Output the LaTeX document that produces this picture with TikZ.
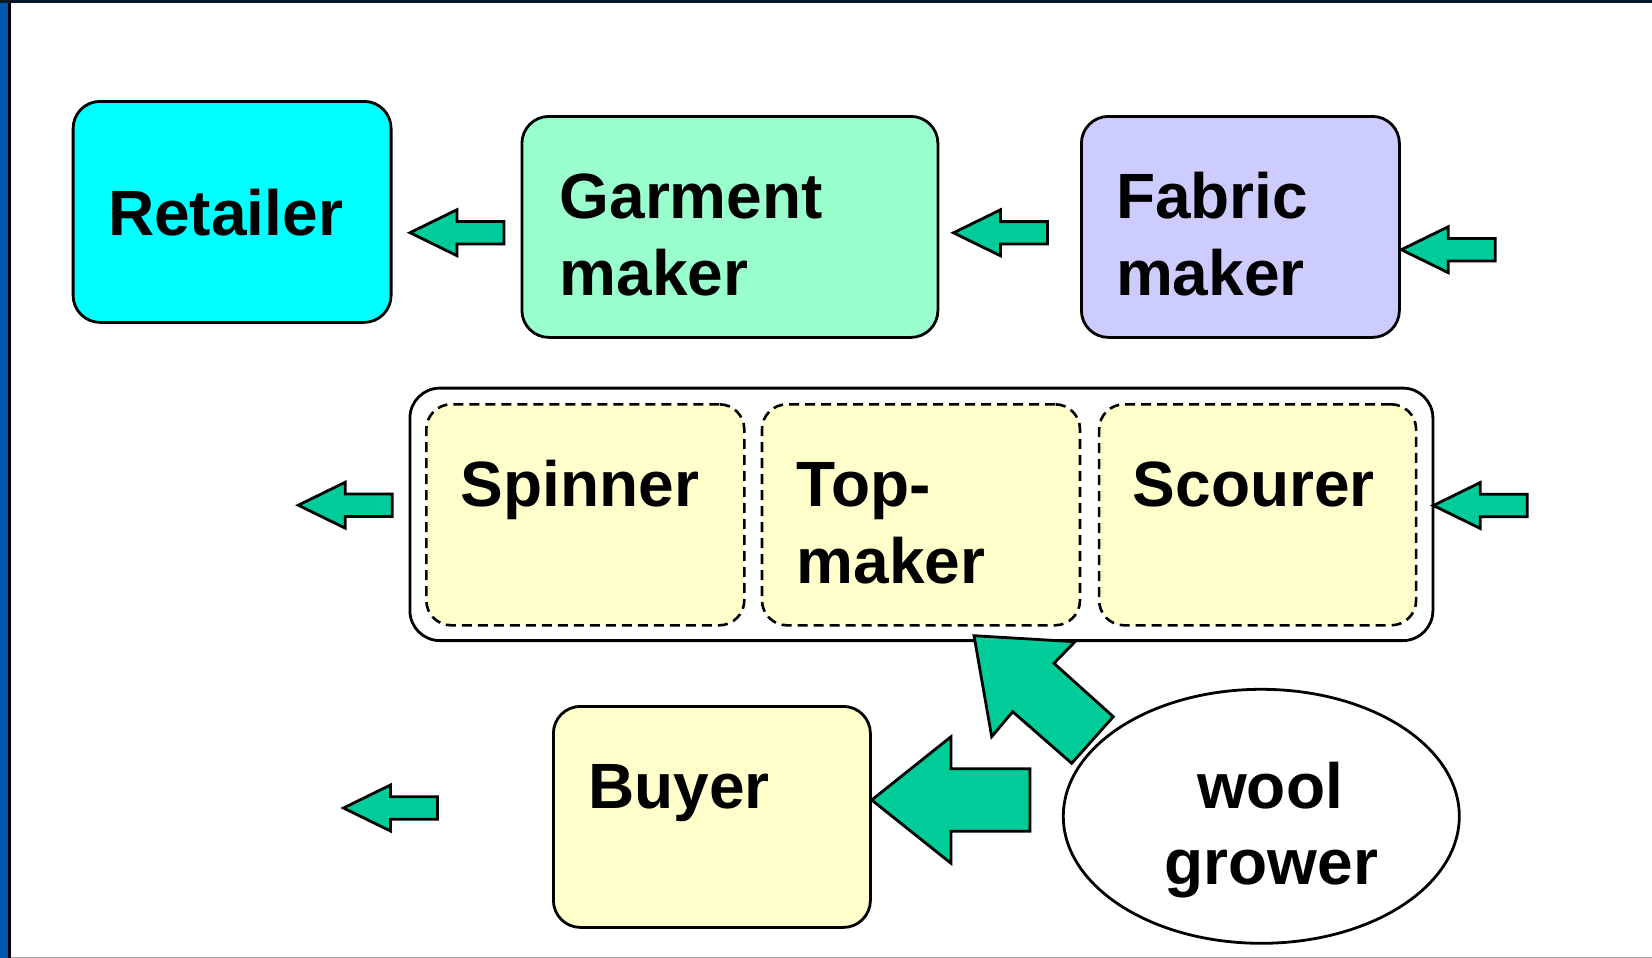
\documentclass[tikz,border=0pt]{standalone}
\usepackage{fontspec}
\setmainfont{Liberation Sans}
\usetikzlibrary{shapes.geometric}

\definecolor{retailcyan}{HTML}{00FFFF}
\definecolor{garmentgreen}{HTML}{99FFCC}
\definecolor{fabriclilac}{HTML}{CCCCFF}
\definecolor{paleyellow}{HTML}{FFFFCC}
\definecolor{flowgreen}{HTML}{00CC99}
\definecolor{frameblue}{HTML}{0058B0}
\definecolor{framedark}{HTML}{04182C}
\definecolor{framegrey}{HTML}{A8A8A8}

\tikzset{
  box/.style={draw=black, line width=2.8pt, rounded corners=27pt, rectangle,
    inner sep=0pt, anchor=north west},
  dashbox/.style={draw=black, line width=2.6pt, rounded corners=25pt, rectangle,
    inner sep=0pt, anchor=north west, fill=paleyellow,
    dash pattern=on 10pt off 6pt},
  label/.style={font=\bfseries\fontsize{64}{77}\selectfont, inner sep=0pt,
    anchor=base west},
  clabel/.style={font=\bfseries\fontsize{64}{77}\selectfont, inner sep=0pt,
    anchor=base},
  flow/.style={draw=black, line width=2.8pt, fill=flowgreen, line join=miter},
  leftarrow/.pic={
    \draw[flow] (0,0) -- (47,-23) -- (47,-11.2) -- (94,-11.2) -- (94,11.2)
      -- (47,11.2) -- (47,23) -- cycle;
  }
}

\begin{document}
\begin{tikzpicture}[x=1pt, y=-1pt]
  \useasboundingbox (0,0) rectangle (1652,958);
  \fill[white] (0,0) rectangle (1652,958);

  % slide frame
  \fill[frameblue] (0,0) rectangle (8,958);
  \fill[black] (8,0) rectangle (11,958);
  \fill[framedark] (0,0) rectangle (1652,3);
  \fill[framegrey] (11,956.5) rectangle (1652,958);

  % top row
  \node[box, fill=retailcyan, minimum width=318pt, minimum height=221pt]
    (retailer) at (71.7,100) {};
  \node[box, fill=garmentgreen, minimum width=416pt, minimum height=221pt]
    (garment) at (520.5,115) {};
  \node[box, fill=fabriclilac, minimum width=318pt, minimum height=221pt]
    (fabric) at (1080,115) {};

  \node[label] (retailerText) at (108,235.5) {Retailer};
  \node[label] (garmentTextA) at (559.5,218) {Garment};
  \node[label] (garmentTextB) at (559.5,295) {maker};
  \node[label] (fabricTextA) at (1115.8,218) {Fabric};
  \node[label] (fabricTextB) at (1115.8,295) {maker};

  % processing group
  \node[box, fill=white, rounded corners=30pt, minimum width=1023pt,
    minimum height=252.5pt] (group) at (408.5,386.7) {};
  \node[dashbox, minimum width=318pt, minimum height=221pt]
    (spinner) at (425,403) {};
  \node[dashbox, minimum width=318pt, minimum height=221pt]
    (topmaker) at (760.7,403) {};
  \node[dashbox, minimum width=317pt, minimum height=221pt]
    (scourer) at (1097.8,403) {};

  \node[label] (spinnerText) at (460.5,506.5) {Spinner};
  \node[label] (topmakerTextA) at (796.6,506.5) {Top-};
  \node[label] (topmakerTextB) at (796.6,583.5) {maker};
  \node[label] (scourerText) at (1132.6,506.5) {Scourer};

  % bottom row
  \node[box, fill=paleyellow, minimum width=317pt, minimum height=221pt]
    (buyer) at (552,705) {};
  \node[label] (buyerText) at (588,808) {Buyer};

  \node[draw=black, line width=2.8pt, fill=white, ellipse, inner sep=0pt,
    minimum width=396pt, minimum height=254pt] (grower) at (1261.3,816.3) {};
  \node[clabel] (growerTextA) at (1270,808.3) {wool};
  \node[clabel] (growerTextB) at (1271.5,884) {grower};

  % small flow arrows
  \pic at (410,232.7) {leftarrow};
  \pic at (953.5,232.8) {leftarrow};
  \pic at (1401.3,249.7) {leftarrow};
  \pic at (298.3,505.2) {leftarrow};
  \pic at (1433.3,505.5) {leftarrow};
  \pic at (343.5,808) {leftarrow};

  % large flow arrows from the grower
  \draw[flow] (871.7,800) -- (951,736.7) -- (951,768.8) -- (1030,768.8)
    -- (1030,831.2) -- (951,831.2) -- (951,863.3) -- cycle;
  \draw[flow] (974,635.7) -- (1075,641.7) -- (1054,663.3) -- (1113.3,716.7)
    -- (1071.7,763.3) -- (1012.7,711.7) -- (991.7,736.7) -- cycle;
\end{tikzpicture}
\end{document}
